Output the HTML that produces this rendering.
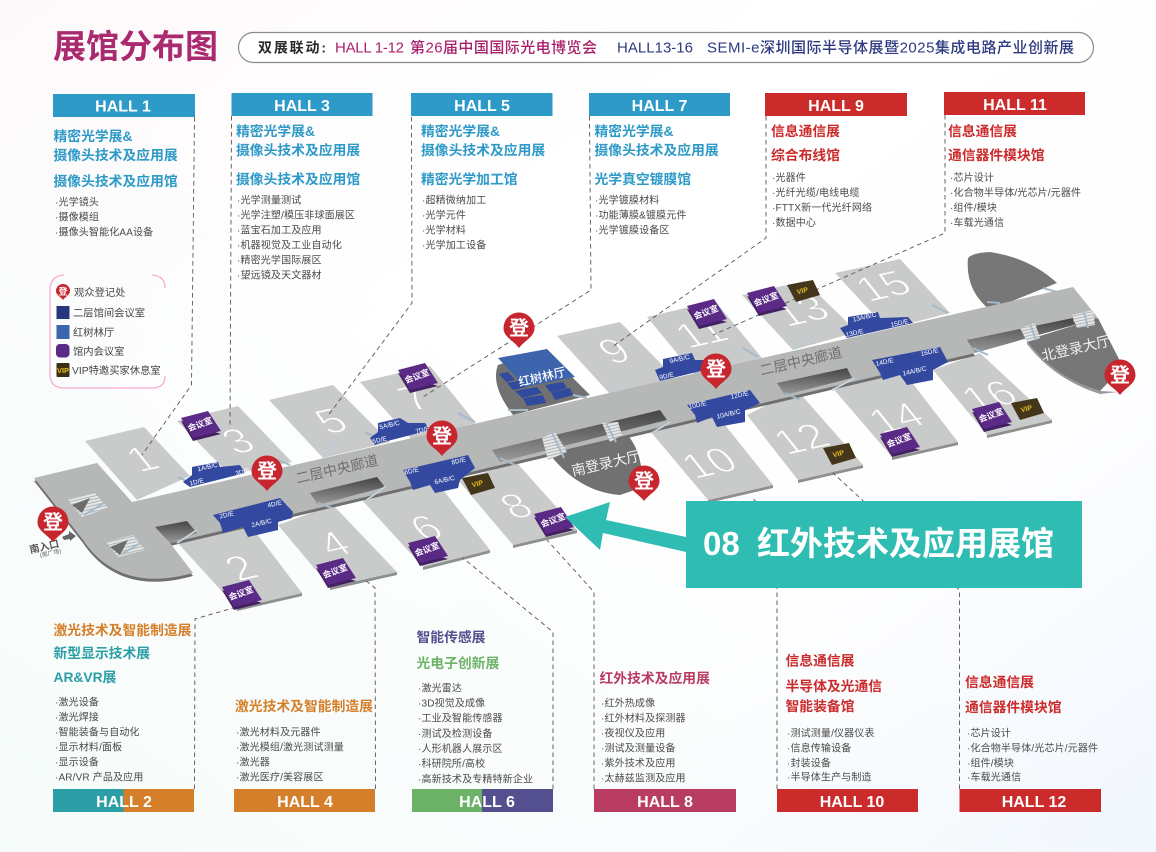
<!DOCTYPE html>
<html lang="zh"><head><meta charset="utf-8"><title>展馆分布图</title>
<style>
html,body{margin:0;padding:0;background:#fff}
svg{display:block;filter:blur(.3px)}
text{font-family:"Liberation Sans","Noto Sans CJK SC",sans-serif}
.h{font-size:13.8px;font-weight:700}
.l{font-size:10px;fill:#4a4a4a;letter-spacing:.15px}
.hd{font-size:16px;font-weight:700;fill:#fff;text-anchor:middle}
.m{font-size:8.5px;font-weight:700;fill:#fff;text-anchor:middle}
.v{font-size:7px;font-weight:700;fill:#e8c020;text-anchor:middle}
.b{font-size:6.5px;fill:#fff;text-anchor:middle}
.dg{font-size:43px;fill:#fff;text-anchor:middle;stroke:#c9cbca;stroke-width:1.3}
.hall{fill:#c9cbca}
.dash{fill:none;stroke:#555;stroke-width:.9;stroke-dasharray:4.5 3.5}
.room{fill:#3349a0}
.esc{fill:none;stroke:#a5b9c9;stroke-width:2}
.esc2{fill:none;stroke:#eef3f6;stroke-width:.7}
.reg{font-size:20px;font-weight:700;fill:#fff;text-anchor:middle}
.pin{fill:#c8262f}
</style></head><body>
<svg width="1156" height="852" viewBox="0 0 1156 852" xmlns="http://www.w3.org/2000/svg">
<defs>
<linearGradient id="bg1" x1="0" y1="0" x2="1" y2="1"><stop offset="0" stop-color="#fdf9fb"/><stop offset=".35" stop-color="#ffffff"/><stop offset=".7" stop-color="#fefeff"/><stop offset="1" stop-color="#f1f7fd"/></linearGradient>
<linearGradient id="bg2" x1="0" y1="1" x2=".5" y2=".5"><stop offset="0" stop-color="#f5fbf9"/><stop offset="1" stop-color="#f5fbf9" stop-opacity="0"/></linearGradient>
<linearGradient id="slit" x1="0" y1="0" x2="0" y2="1"><stop offset="0" stop-color="#444"/><stop offset="1" stop-color="#9a9a9a"/></linearGradient>
<pattern id="hatch" width="3" height="3" patternUnits="userSpaceOnUse" patternTransform="rotate(-13)"><rect width="3" height="3" fill="#e6e8e8"/><rect width="3" height="1" fill="#b0b4b6"/></pattern>
</defs>
<rect width="1156" height="852" fill="url(#bg1)"/>
<rect width="1156" height="852" fill="url(#bg2)"/>

<!-- title -->
<text x="53" y="58" font-size="33" font-weight="700" fill="#a92a6e" textLength="165" lengthAdjust="spacing">展馆分布图</text>
<rect x="238.500" y="32.500" width="855" height="30" rx="15" fill="#fff" stroke="#8a8a8a" stroke-width="1.2"/>
<text x="258" y="52.500" font-size="14px" font-weight="700" fill="#2a2a2a" textLength="68">双展联动:</text>
<text x="335" y="52.500" font-size="15px" font-weight="500" fill="#a8206a" textLength="69">HALL 1-12</text>
<text x="410" y="52.500" font-size="15px" font-weight="500" fill="#a8206a" textLength="187">第26届中国国际光电博览会</text>
<text x="617" y="52.500" font-size="15px" font-weight="500" fill="#2e3a80" textLength="76">HALL13-16</text>
<text x="707" y="52.500" font-size="15px" font-weight="500" fill="#2e3a80" textLength="367">SEMI-e深圳国际半导体展暨2025集成电路产业创新展</text>

<!-- header bars -->
<rect x="53" y="94" width="142" height="23" fill="#2d9ac8"/><text class="hd" x="123" y="111.500">HALL 1</text>
<rect x="231.500" y="93" width="141" height="23" fill="#2d9ac8"/><text class="hd" x="302" y="111">HALL 3</text>
<rect x="411" y="93" width="141.500" height="23" fill="#2d9ac8"/><text class="hd" x="482" y="111">HALL 5</text>
<rect x="589" y="93" width="141" height="23" fill="#2d9ac8"/><text class="hd" x="659.500" y="111">HALL 7</text>
<rect x="765" y="93" width="142" height="23" fill="#cc2b2b"/><text class="hd" x="836" y="111">HALL 9</text>
<rect x="944" y="92" width="141" height="23" fill="#cc2b2b"/><text class="hd" x="1015" y="110">HALL 11</text>

<rect x="53" y="789" width="71" height="23" fill="#2c9ea6"/><rect x="123.500" y="789" width="70.500" height="23" fill="#d57f2a"/><text class="hd" x="124" y="807">HALL 2</text>
<rect x="234" y="789" width="141" height="23" fill="#d57f2a"/><text class="hd" x="305" y="807">HALL 4</text>
<rect x="412" y="789" width="71" height="23" fill="#6cb267"/><rect x="482" y="789" width="71" height="23" fill="#54508f"/><text class="hd" x="487" y="807">HALL 6</text>
<rect x="594" y="789" width="142" height="23" fill="#b93c62"/><text class="hd" x="665" y="807">HALL 8</text>
<rect x="777" y="789" width="141" height="23" fill="#cc2b2b"/><text class="hd" x="852" y="807">HALL 10</text>
<rect x="959.500" y="789" width="141.500" height="23" fill="#cc2b2b"/><text class="hd" x="1034" y="807">HALL 12</text>

<!-- column text -->
<g fill="#2d9ac8">
<text class="h" x="53.500" y="141">精密光学展&amp;</text><text class="h" x="53.500" y="160">摄像头技术及应用展</text><text class="h" x="53.500" y="186">摄像头技术及应用馆</text>
<text class="h" x="236" y="136">精密光学展&amp;</text><text class="h" x="236" y="155">摄像头技术及应用展</text><text class="h" x="236" y="184">摄像头技术及应用馆</text>
<text class="h" x="421" y="136">精密光学展&amp;</text><text class="h" x="421" y="155">摄像头技术及应用展</text><text class="h" x="421" y="184">精密光学加工馆</text>
<text class="h" x="594.500" y="136">精密光学展&amp;</text><text class="h" x="594.500" y="155">摄像头技术及应用展</text><text class="h" x="594.500" y="184">光学真空镀膜馆</text>
</g>
<g fill="#cc2b2b">
<text class="h" x="771" y="136">信息通信展</text><text class="h" x="771" y="160">综合布线馆</text>
<text class="h" x="948" y="136">信息通信展</text><text class="h" x="948" y="160">通信器件模块馆</text>
<text class="h" x="785.500" y="665.500">信息通信展</text><text class="h" x="785.500" y="691">半导体及光通信</text><text class="h" x="785.500" y="711">智能装备馆</text>
<text class="h" x="965" y="687">信息通信展</text><text class="h" x="965" y="712">通信器件模块馆</text>
</g>
<text class="h" x="53.500" y="635" fill="#d57f2a">激光技术及智能制造展</text>
<text class="h" x="53.500" y="658" fill="#2c9ea6">新型显示技术展</text>
<text class="h" x="53.500" y="682" fill="#2c9ea6">AR&amp;VR展</text>
<text class="h" x="235" y="711" fill="#d57f2a">激光技术及智能制造展</text>
<text class="h" x="416.500" y="642" fill="#54508f">智能传感展</text>
<text class="h" x="416.500" y="668" fill="#6cb267">光电子创新展</text>
<text class="h" x="599.500" y="683" fill="#b93c62">红外技术及应用展</text>

<text class="l" x="55" y="205.500">·光学镜头</text><text class="l" x="55" y="220.500">·摄像模组</text><text class="l" x="55" y="235.500">·摄像头智能化AA设备</text>

<text class="l" x="237" y="203.500">·光学测量测试</text><text class="l" x="237" y="218.500">·光学注塑/模压非球面展区</text><text class="l" x="237" y="233.500">·蓝宝石加工及应用</text><text class="l" x="237" y="248.500">·机器视觉及工业自动化</text><text class="l" x="237" y="263.500">·精密光学国际展区</text><text class="l" x="237" y="278.500">·望远镜及天文器材</text>

<text class="l" x="422" y="203.500">·超精微纳加工</text><text class="l" x="422" y="218.500">·光学元件</text><text class="l" x="422" y="233.500">·光学材料</text><text class="l" x="422" y="248.500">·光学加工设备</text>

<text class="l" x="595" y="203.500">·光学镀膜材料</text><text class="l" x="595" y="218.500">·功能薄膜&amp;镀膜元件</text><text class="l" x="595" y="233.500">·光学镀膜设备区</text>

<text class="l" x="772" y="181">·光器件</text><text class="l" x="772" y="196">·光纤光缆/电线电缆</text><text class="l" x="772" y="211">·FTTX新一代光纤网络</text><text class="l" x="772" y="226">·数据中心</text>

<text class="l" x="950" y="181">·芯片设计</text><text class="l" x="950" y="196">·化合物半导体/光芯片/元器件</text><text class="l" x="950" y="211">·组件/模块</text><text class="l" x="950" y="226">·车载光通信</text>

<text class="l" x="55" y="705.500">·激光设备</text><text class="l" x="55" y="720.500">·激光焊接</text><text class="l" x="55" y="735.500">·智能装备与自动化</text><text class="l" x="55" y="750.500">·显示材料/面板</text><text class="l" x="55" y="765.500">·显示设备</text><text class="l" x="55" y="780.500">·AR/VR 产品及应用</text>

<text class="l" x="236" y="735.500">·激光材料及元器件</text><text class="l" x="236" y="750.500">·激光模组/激光测试测量</text><text class="l" x="236" y="765.500">·激光器</text><text class="l" x="236" y="780.500">·激光医疗/美容展区</text>

<text class="l" x="418" y="691.500">·激光雷达</text><text class="l" x="418" y="706.500">·3D视觉及成像</text><text class="l" x="418" y="721.500">·工业及智能传感器</text><text class="l" x="418" y="737">·测试及检测设备</text><text class="l" x="418" y="752">·人形机器人展示区</text><text class="l" x="418" y="767">·科研院所/高校</text><text class="l" x="418" y="782.500">·高新技术及专精特新企业</text>

<text class="l" x="601" y="706.500">·红外热成像</text><text class="l" x="601" y="721.500">·红外材料及探测器</text><text class="l" x="601" y="736.500">·夜视仪及应用</text><text class="l" x="601" y="751.500">·测试及测量设备</text><text class="l" x="601" y="766.500">·紫外技术及应用</text><text class="l" x="601" y="781.500">·太赫兹监测及应用</text>

<text class="l" x="787" y="736.500">·测试测量/仪器仪表</text><text class="l" x="787" y="751.500">·信息传输设备</text><text class="l" x="787" y="766.500">·封装设备</text><text class="l" x="787" y="780.500">·半导体生产与制造</text>

<text class="l" x="967" y="736.500">·芯片设计</text><text class="l" x="967" y="751.500">·化合物半导体/光芯片/元器件</text><text class="l" x="967" y="766.500">·组件/模块</text><text class="l" x="967" y="780.500">·车载光通信</text>

<!-- legend -->
<path d="M64,275 Q50,276 50,290 V374 Q50,388 64,388 H152 Q165,388 165,376 M152,275 Q165,276 165,288" fill="none" stroke="#f7a8d0" stroke-width="1.2"/>
<g transform="translate(63,291)"><path d="M-7,0 A7,7 0 1 1 7,0 C7,4 3,5 0,9 C-3,5 -7,4 -7,0Z" class="pin"/><text x="0" y="3.500" font-size="9" font-weight="700" fill="#fff" text-anchor="middle">登</text></g>
<text x="74" y="296" font-size="10.300" fill="#444">观众登记处</text>
<rect x="56.500" y="306" width="13" height="13" fill="#27377f"/><text x="73" y="316.500" font-size="10.300" fill="#444">二层馆间会议室</text>
<rect x="56.500" y="325" width="13" height="14" fill="#3e64ae"/><text x="73" y="336" font-size="10.300" fill="#444">红树林厅</text>
<rect x="56" y="344" width="13.500" height="13.500" rx="4" fill="#5b2a86"/><text x="73" y="355" font-size="10.300" fill="#444">馆内会议室</text>
<rect x="56.500" y="363" width="13" height="14" rx="1" fill="#3b2f10"/><text x="63" y="373" font-size="7.500" font-weight="700" fill="#e8c020" text-anchor="middle">VIP</text><text x="72" y="374" font-size="10.300" fill="#444">VIP特邀买家休息室</text>

<!-- lobbies -->
<path d="M968,258 Q972,253 990,252 Q1030,258 1057,283 L990,310 Q965,290 968,258Z" fill="#777"/>
<path d="M1027,340 L1098,318 L1123,367 L1100,391 Q1055,378 1027,343Z" fill="#777"/>
<path d="M1027,344 Q1055,380 1100,394 L1118,392 L1100,391 Q1055,378 1027,341Z" fill="#999"/>
<path d="M548,452 L622,430 Q642,445 643,487 L620,495 Q578,492 548,452Z" fill="#717171"/>
<path d="M498,365 Q490,385 513,415 L590,395 L545,350Z" fill="#717171"/>

<!-- top halls -->
<g class="hall">
<polygon points="85,441 144,427 190,476 137,500"/>
<polygon points="177,421 238,406 292,462 230,475"/>
<polygon points="269,400 333,385 390,442 323,458"/>
<polygon points="360,382 430,366 476,423 412,440"/>
<polygon points="557,336 620,322 675,378 610,394"/>
<polygon points="647,317 715,301 762,358 695,375"/>
<polygon points="742,295 805,281 857,332 793,350"/>
<polygon points="835,273 900,259 950,313 887,329"/>
</g>
<!-- bottom hall edges -->
<g fill="#8e908f">
<polygon points="237,611 302,596 302,593 237,608"/>
<polygon points="330,590 397,575 397,572 330,587"/>
<polygon points="423,570 490,553 490,550 423,567"/>
<polygon points="513,548 577,533 577,530 513,545"/>
<polygon points="708,503 773,488 773,485 708,500"/>
<polygon points="798,483 863,468 863,465 798,480"/>
<polygon points="892,460 958,445 958,442 892,457"/>
<polygon points="987,438 1052,423 1052,420 987,435"/>
</g>
<g class="hall">
<polygon points="177,542 250,525 302,593 237,608"/>
<polygon points="278,525 333,505 397,572 330,587"/>
<polygon points="362,500 437,482 490,550 423,567"/>
<polygon points="458,480 517,463 577,530 513,545"/>
<polygon points="645,425 713,410 773,485 708,500"/>
<polygon points="747,415 797,390 863,465 798,480"/>
<polygon points="830,385 900,367 958,442 892,457"/>
<polygon points="933,370 980,353 1052,420 987,435"/>
</g>

<!-- corridor -->
<path d="M34,481 L97,466 L132,505 L1073,290 L1098,321 L967,343 L975,356 L170,546 L193,576 C150,588 110,583 83,543 Z" fill="#6f6f6f"/>
<path d="M34,478 L97,463 L132,502 L1073,287 L1098,318 L967,340 L975,353 L170,543 L193,573 C150,585 110,580 83,540 Z" fill="#b6b7b7"/>

<!-- slits -->
<g fill="url(#slit)">
<polygon points="155,527 187,521 197,533 170,543"/>
<polygon points="310,493 377,477 385,487 318,505"/>
<polygon points="492,450 660,410 667,420 500,462"/>
<polygon points="777,383 847,368 852,378 785,395"/>
<polygon points="967,340 1073,318 1074,325 975,353"/>
</g>

<!-- escalators -->
<g fill="url(#hatch)">
<polygon points="542,438 555,432 567,452 548,460"/><polygon points="602,423 618,422 622,435 610,442"/>
<polygon points="1020,328 1035,323 1040,338 1027,342"/><polygon points="1072,315 1093,310 1095,325 1077,328"/>
<polygon points="68,500 95,493 108,508 82,517"/><polygon points="106,542 133,535 145,550 118,557"/>
</g>
<polygon points="72,505 90,498 82,513" fill="#6d6d6d"/><polygon points="110,547 128,540 120,555" fill="#6d6d6d"/>
<g class="esc">
<path d="M137,497L155,484M178,477L188,482M278,460L290,465M323,453L340,440M364,502L386,486M318,503L332,508M177,543L197,530M365,433L378,437M458,413L475,422M500,458L515,465M610,390L628,377M573,395L587,398M508,410L528,410M652,433L670,422M743,348L758,357M795,347L812,335M932,305L948,313M785,393L800,400M832,390L855,378M973,348L988,355M987,302L1000,303M1043,288L1057,292"/>
<path d="M552,433L564,458M606,423L616,442M1030,324L1036,340M1084,312L1088,328M84,515L104,503M122,554L142,542"/>
</g>
<g class="esc2"><path d="M137,497L155,484M323,453L340,440M364,502L386,486M177,543L197,530M610,390L628,377M652,433L670,422M795,347L812,335M832,390L855,378"/></g>

<!-- digits -->
<g>
<text class="dg" transform="matrix(.97 -.22 .6 .75 151 470)">1</text>
<text class="dg" transform="matrix(.97 -.22 .6 .75 247 452)">3</text>
<text class="dg" transform="matrix(.97 -.22 .6 .75 340 432)">5</text>
<text class="dg" transform="matrix(.97 -.22 .6 .75 423 409)">7</text>
<text class="dg" transform="matrix(.97 -.22 .6 .75 623 362)">9</text>
<text class="dg" transform="matrix(.97 -.22 .6 .75 710 344)">11</text>
<text class="dg" transform="matrix(.97 -.22 .6 .75 810 322)">13</text>
<text class="dg" transform="matrix(.97 -.22 .6 .75 892 297)">15</text>
<text class="dg" transform="matrix(.97 -.22 .6 .75 250 579)">2</text>
<text class="dg" transform="matrix(.97 -.22 .6 .75 343 555)">4</text>
<text class="dg" transform="matrix(.97 -.22 .6 .75 435 539)">6</text>
<text class="dg" transform="matrix(.97 -.22 .6 .75 525 517)">8</text>
<text class="dg" transform="matrix(.97 -.22 .6 .75 718 474)">10</text>
<text class="dg" transform="matrix(.97 -.22 .6 .75 810 450)">12</text>
<text class="dg" transform="matrix(.97 -.22 .6 .75 905 429)">14</text>
<text class="dg" transform="matrix(.97 -.22 .6 .75 998 407)">16</text>
</g>

<!-- dashed connectors -->
<g class="dash">
<path d="M194.500,117 L191.500,385 L142,455"/>
<path d="M231.500,116 L230,427"/>
<path d="M411.500,117 L412,303 L327,417"/>
<path d="M589.500,116 L591,290 L423,397"/>
<path d="M766,116 L766,238 L612,347"/>
<path d="M945,115 L945,233 L713,335"/>
<path d="M194.500,789 L195,619 L233,608"/>
<path d="M375.500,789 L375,588 L365,580"/>
<path d="M553,789 L553,632 L463,558"/>
<path d="M594,789 L594,592 L547,540"/>
<path d="M777,789 L777,520 L752,498"/>
<path d="M959.500,789 L959.500,590 L833,473"/>
</g>

<!-- mangrove hall -->
<g fill="#2f4a9e">
<polygon points="499,374 508,372 515,380 506,382"/><polygon points="507,383 522,380 527,387 513,390"/>
<polygon points="515,391 537,387 542,393 522,398"/><polygon points="523,398 543,395 546,403 527,406"/>
<polygon points="545,385 563,382 567,388 550,392"/><polygon points="551,392 570,388 573,395 555,400"/>
</g>
<polygon points="498,358 547,349 575,377 525,387" fill="#3e64ae"/>
<text transform="translate(543,381) rotate(-13)" font-size="12" font-weight="500" fill="#fff" text-anchor="middle">红树林厅</text>

<!-- blue rooms -->
<g class="room">
<polygon points="192,467 218,462 220,467 240,465 245,473 190,487 183,482 192,475"/>
<polygon points="213,515 280,498 293,512 292,518 278,522 278,530 248,537 243,527 223,533 220,523"/>
<polygon points="370,438 378,432 378,423 400,418 408,423 425,423 430,430 380,443 375,445"/>
<polygon points="403,470 468,455 475,468 460,480 458,488 435,493 430,485 413,490 410,482"/>
<polygon points="663,359 692,353 695,360 705,360 705,370 660,381 655,370 663,367"/>
<polygon points="687,405 750,390 760,403 745,410 745,422 717,427 712,417 697,423 695,415"/>
<polygon points="848,317 878,312 880,318 908,317 913,323 847,338 840,328 848,325"/>
<polygon points="872,360 940,347 948,362 933,370 933,380 907,385 900,375 883,380 880,373"/>
</g>
<g>
<text class="b" transform="translate(208,469) rotate(-13)">1A/B/C</text><text class="b" transform="translate(197,484) rotate(-13)">1D/E</text><text class="b" transform="translate(243,474) rotate(-13)">3D/E</text>
<text class="b" transform="translate(227,517) rotate(-13)">2D/E</text><text class="b" transform="translate(275,506) rotate(-13)">4D/E</text><text class="b" transform="translate(262,525) rotate(-13)">2A/B/C</text>
<text class="b" transform="translate(390,427) rotate(-13)">5A/B/C</text><text class="b" transform="translate(380,442) rotate(-13)">5D/E</text><text class="b" transform="translate(423,432) rotate(-13)">7D/E</text>
<text class="b" transform="translate(412,473) rotate(-13)">6D/E</text><text class="b" transform="translate(459,463) rotate(-13)">8D/E</text><text class="b" transform="translate(445,482) rotate(-13)">6A/B/C</text>
<text class="b" transform="translate(680,361) rotate(-13)">9A/B/C</text><text class="b" transform="translate(667,378) rotate(-13)">9D/E</text>
<text class="b" transform="translate(698,407) rotate(-13)">10D/E</text><text class="b" transform="translate(740,397) rotate(-13)">12D/E</text><text class="b" transform="translate(729,416) rotate(-13)">10A/B/C</text>
<text class="b" transform="translate(865,319) rotate(-13)">13A/B/C</text><text class="b" transform="translate(855,335) rotate(-13)">13D/E</text><text class="b" transform="translate(900,325) rotate(-13)">15D/E</text>
<text class="b" transform="translate(885,364) rotate(-13)">14D/E</text><text class="b" transform="translate(930,354) rotate(-13)">16D/E</text><text class="b" transform="translate(915,373) rotate(-13)">14A/B/C</text>
</g>

<!-- meeting rooms -->
<g transform="translate(201,424)"><polygon points="-20,-3 20,10 -8,17" fill="#432062"/><polygon points="-20,-6 7,-13 20,7 -8,14" fill="#5b2a86"/><text class="m" transform="translate(0,3) rotate(-20)">会议室</text></g>
<g transform="translate(242,593)"><polygon points="-20,-3 20,10 -8,17" fill="#432062"/><polygon points="-20,-6 7,-13 20,7 -8,14" fill="#5b2a86"/><text class="m" transform="translate(0,3) rotate(-20)">会议室</text></g>
<g transform="translate(336,571)"><polygon points="-20,-3 20,10 -8,17" fill="#432062"/><polygon points="-20,-6 7,-13 20,7 -8,14" fill="#5b2a86"/><text class="m" transform="translate(0,3) rotate(-20)">会议室</text></g>
<g transform="translate(418,376)"><polygon points="-20,-3 20,10 -8,17" fill="#432062"/><polygon points="-20,-6 7,-13 20,7 -8,14" fill="#5b2a86"/><text class="m" transform="translate(0,3) rotate(-20)">会议室</text></g>
<g transform="translate(428,549)"><polygon points="-20,-3 20,10 -8,17" fill="#432062"/><polygon points="-20,-6 7,-13 20,7 -8,14" fill="#5b2a86"/><text class="m" transform="translate(0,3) rotate(-20)">会议室</text></g>
<g transform="translate(554,520)"><polygon points="-20,-3 20,10 -8,17" fill="#432062"/><polygon points="-20,-6 7,-13 20,7 -8,14" fill="#5b2a86"/><text class="m" transform="translate(0,3) rotate(-20)">会议室</text></g>
<g transform="translate(707,312)"><polygon points="-20,-3 20,10 -8,17" fill="#432062"/><polygon points="-20,-6 7,-13 20,7 -8,14" fill="#5b2a86"/><text class="m" transform="translate(0,3) rotate(-20)">会议室</text></g>
<g transform="translate(767,299)"><polygon points="-20,-3 20,10 -8,17" fill="#432062"/><polygon points="-20,-6 7,-13 20,7 -8,14" fill="#5b2a86"/><text class="m" transform="translate(0,3) rotate(-20)">会议室</text></g>
<g transform="translate(900,440)"><polygon points="-20,-3 20,10 -8,17" fill="#432062"/><polygon points="-20,-6 7,-13 20,7 -8,14" fill="#5b2a86"/><text class="m" transform="translate(0,3) rotate(-20)">会议室</text></g>
<g transform="translate(992,415)"><polygon points="-20,-3 20,10 -8,17" fill="#432062"/><polygon points="-20,-6 7,-13 20,7 -8,14" fill="#5b2a86"/><text class="m" transform="translate(0,3) rotate(-20)">会议室</text></g>

<!-- VIP rooms -->
<g transform="translate(478,483)"><polygon points="-16,-5 10,-10 17,5 -7,12" fill="#43361a"/><text class="v" transform="translate(0,3) rotate(-15)">VIP</text></g>
<g transform="translate(803,290)"><polygon points="-16,-5 10,-10 17,5 -7,12" fill="#43361a"/><text class="v" transform="translate(0,3) rotate(-15)">VIP</text></g>
<g transform="translate(839,453)"><polygon points="-16,-5 10,-10 17,5 -7,12" fill="#43361a"/><text class="v" transform="translate(0,3) rotate(-15)">VIP</text></g>
<g transform="translate(1027,408)"><polygon points="-16,-5 10,-10 17,5 -7,12" fill="#43361a"/><text class="v" transform="translate(0,3) rotate(-15)">VIP</text></g>

<!-- labels on floor -->
<text transform="translate(338,474) rotate(-13)" font-size="14" fill="#6f6f6f" text-anchor="middle">二层中央廊道</text>
<text transform="translate(802,366) rotate(-13)" font-size="14" fill="#6f6f6f" text-anchor="middle">二层中央廊道</text>
<text transform="translate(607,468) rotate(-13)" font-size="14" fill="#f2f2f2" text-anchor="middle">南登录大厅</text>
<text transform="translate(1077,353) rotate(-13)" font-size="14" fill="#f2f2f2" text-anchor="middle">北登录大厅</text>
<text transform="translate(45,550) rotate(-13)" font-size="10" font-weight="700" fill="#555" text-anchor="middle">南入口</text>
<text transform="translate(51,555) rotate(-13)" font-size="6" fill="#666" text-anchor="middle">(南广场)</text>
<polygon points="62,537 69,534 69,531 76,536 70,541 70,539 64,540" fill="#666"/>

<!-- registration pins -->
<g transform="translate(53,522)"><path class="pin" d="M-15.500,0 A15.500,15.500 0 1 1 15.500,0 C15.500,9 6,12 0,20 C-6,12 -15.500,9 -15.500,0Z"/><text class="reg" y="7">登</text></g>
<g transform="translate(267,471)"><path class="pin" d="M-15.500,0 A15.500,15.500 0 1 1 15.500,0 C15.500,9 6,12 0,20 C-6,12 -15.500,9 -15.500,0Z"/><text class="reg" y="7">登</text></g>
<g transform="translate(519,328)"><path class="pin" d="M-15.500,0 A15.500,15.500 0 1 1 15.500,0 C15.500,9 6,12 0,20 C-6,12 -15.500,9 -15.500,0Z"/><text class="reg" y="7">登</text></g>
<g transform="translate(442,436)"><path class="pin" d="M-15.500,0 A15.500,15.500 0 1 1 15.500,0 C15.500,9 6,12 0,20 C-6,12 -15.500,9 -15.500,0Z"/><text class="reg" y="7">登</text></g>
<g transform="translate(644,481)"><path class="pin" d="M-15.500,0 A15.500,15.500 0 1 1 15.500,0 C15.500,9 6,12 0,20 C-6,12 -15.500,9 -15.500,0Z"/><text class="reg" y="7">登</text></g>
<g transform="translate(716,369)"><path class="pin" d="M-15.500,0 A15.500,15.500 0 1 1 15.500,0 C15.500,9 6,12 0,20 C-6,12 -15.500,9 -15.500,0Z"/><text class="reg" y="7">登</text></g>
<g transform="translate(1120,375)"><path class="pin" d="M-15.500,0 A15.500,15.500 0 1 1 15.500,0 C15.500,9 6,12 0,20 C-6,12 -15.500,9 -15.500,0Z"/><text class="reg" y="7">登</text></g>

<!-- callout -->
<polygon points="565,517 610,502 606,520 686,537 686,552 603,533 600,550" fill="#2fbcb3"/>
<rect x="686" y="501" width="396" height="87" fill="#2fbcb3"/>
<text x="703" y="555" font-size="33" font-weight="700" fill="#fff">08</text>
<text x="757" y="555" font-size="33" font-weight="700" fill="#fff" textLength="297">红外技术及应用展馆</text>
</svg>
</body></html>
